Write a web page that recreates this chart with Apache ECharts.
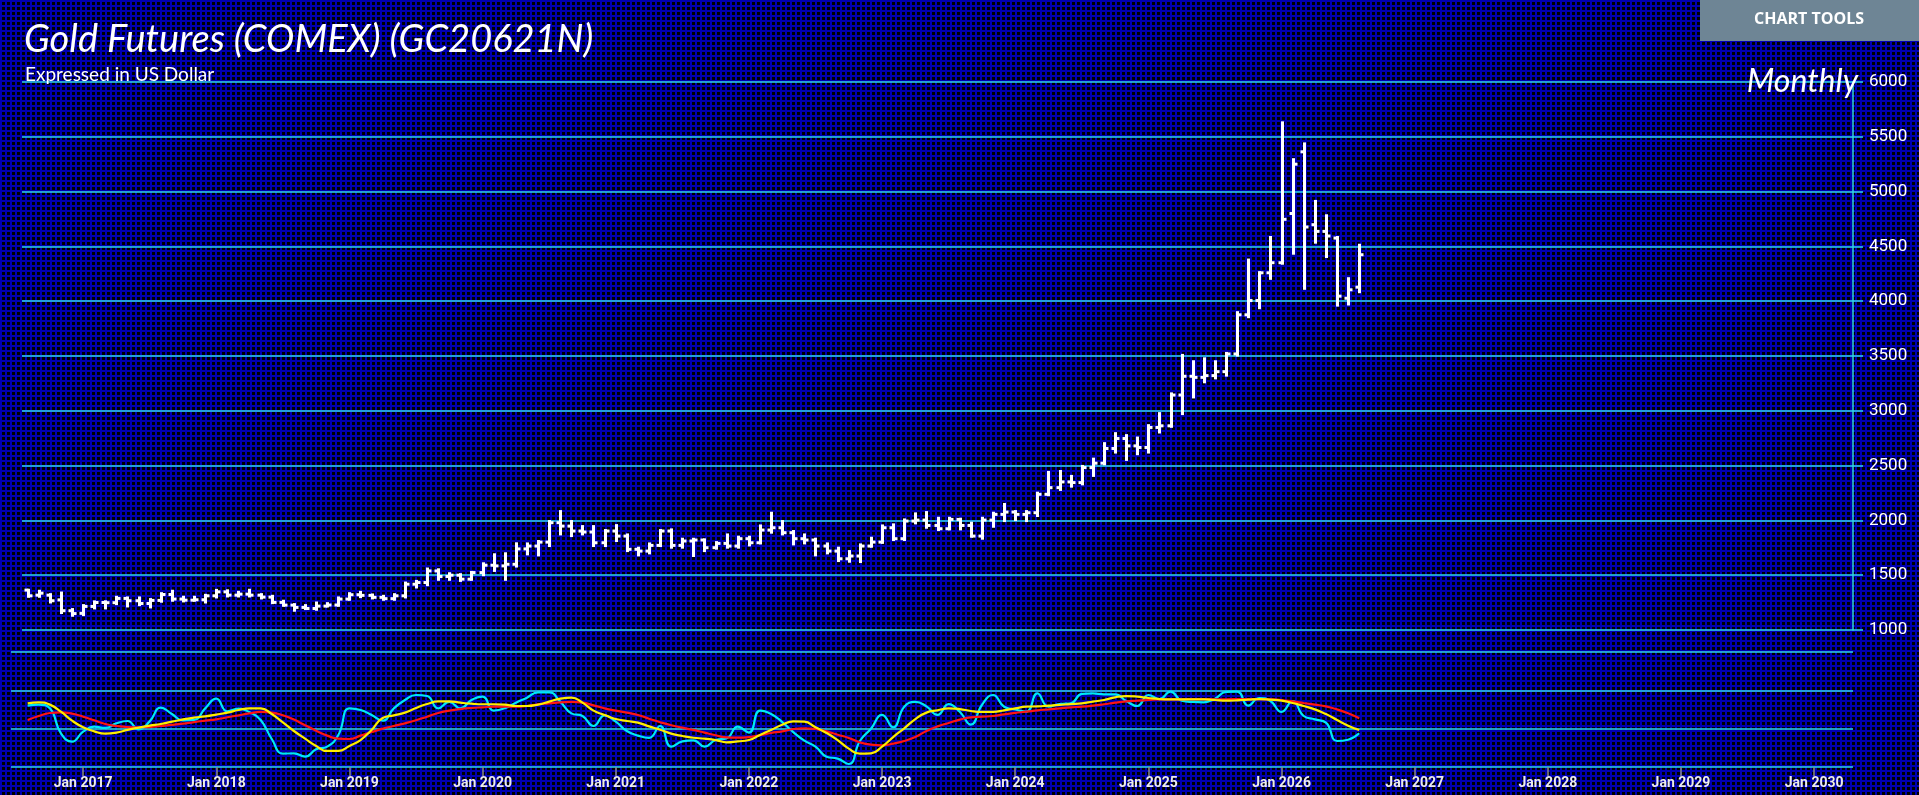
<!DOCTYPE html>
<html>
<head>
<meta charset="utf-8">
<script src="https://cdn.jsdelivr.net/npm/echarts@6/dist/echarts.min.js"></script>
<style>
html,body{margin:0;padding:0;width:1919px;height:795px;overflow:hidden;
background-color:#000;
background-image:linear-gradient(to right,#0000b0 2px,transparent 2px),linear-gradient(to bottom,#0000b0 2px,transparent 2px);
background-size:5px 5px;}
#chart{width:1919px;height:795px;}
</style>
</head>
<body>
<div id="chart"></div>
<script>
// ---- categories (monthly, Jul 2016 .. Apr 2030) ----
const MONTH_NAMES = ['Jan','Feb','Mar','Apr','May','Jun','Jul','Aug','Sep','Oct','Nov','Dec'];
const monthsLower = [];
for (let i = 0; i < 166; i++) { const t = 6 + i; monthsLower.push(MONTH_NAMES[t % 12] + ' ' + (2016 + Math.floor(t / 12))); }
const monthsMain = monthsLower.slice(1); // Aug 2016 .. Apr 2030

// ---- OHLC, Aug 2016 .. Aug 2026 ----
const opens = [1364,1318,1318,1275,1176, 1152,1215,1251,1249,1288,1267,1242,1270,1324,1282,1272,1276,
 1312,1348,1318,1327,1318,1300,1252,1227,1206,1196,1218,1228,
 1282,1322,1316,1298,1286,1312,1418,1433,1539,1488,1500,1464,
 1524,1591,1585,1600,1740,1766,1802,1979,1948,1903,1894,1796,
 1903,1857,1736,1720,1772,1903,1772,1812,1821,1751,1790,1766,
 1833,1796,1912,1933,1888,1833,1821,1766,1720,1650,1675,1766,
 1802,1933,1833,1994,2003,1954,1924,2009,1954,1857,2003,2055,
 2076,2055,2070,2238,2299,2351,2345,2482,2522,2656,2747,2680,
 2665,2848,2863,3144,3315,3305,3321,3357,3519,3876,4006,4259,
 4351,4800,5363,4698,4637,4576,4027,4128];
const highs = [1367,1358,1327,1342,1191, 1227,1261,1262,1303,1297,1297,1282,1336,1358,1303,1303,1321,
 1366,1362,1348,1367,1327,1312,1267,1236,1227,1251,1245,1297,
 1336,1348,1324,1312,1327,1433,1448,1561,1554,1518,1509,1530,
 1609,1691,1700,1791,1790,1812,1994,2085,1994,1948,1948,1912,
 1957,1872,1751,1790,1912,1918,1833,1833,1827,1802,1872,1851,
 1851,1954,2070,1994,1903,1872,1833,1790,1751,1720,1781,1842,
 1954,1964,2009,2064,2076,2024,2024,2015,1979,2024,2070,2150,
 2085,2085,2253,2442,2451,2406,2497,2564,2705,2796,2778,2756,
 2869,2979,3159,3510,3452,3479,3452,3528,3900,4380,4265,4586,
 5632,5296,5440,4915,4784,4586,4210,4515];
const lows = [1303,1303,1251,1155,1130, 1136,1197,1197,1236,1215,1227,1206,1258,1267,1261,1267,1251,
 1297,1306,1306,1306,1288,1245,1221,1176,1191,1185,1215,1221,
 1276,1300,1288,1276,1276,1297,1388,1409,1458,1458,1448,1458,
 1500,1539,1458,1579,1690,1681,1766,1872,1857,1872,1766,1766,
 1812,1720,1681,1699,1766,1751,1751,1675,1720,1742,1751,1751,
 1772,1790,1888,1872,1781,1790,1681,1699,1629,1623,1620,1760,
 1795,1821,1821,1973,1933,1912,1918,1918,1851,1833,1942,1994,
 2003,1994,2040,2230,2278,2308,2329,2406,2512,2619,2552,2604,
 2619,2802,2854,2970,3122,3260,3296,3321,3504,3854,3936,4204,
 4342,4433,4113,4534,4403,3960,3970,4082];
const closes = [1312,1336,1267,1176,1150, 1215,1251,1249,1288,1267,1242,1270,1324,1282,1272,1276,1312,
 1348,1318,1327,1318,1300,1252,1227,1206,1196,1218,1228,1282,
 1322,1316,1298,1286,1312,1418,1433,1539,1488,1500,1464,1524,
 1591,1585,1600,1740,1766,1802,1979,1948,1903,1894,1796,1903,
 1857,1736,1720,1772,1903,1772,1812,1821,1751,1790,1766,1833,
 1796,1912,1933,1888,1833,1821,1766,1720,1650,1675,1766,1802,
 1933,1833,1994,2003,1954,1924,2009,1954,1857,2003,2055,2076,
 2055,2070,2238,2299,2351,2345,2482,2522,2656,2747,2680,2665,
 2848,2863,3144,3315,3305,3321,3357,3519,3876,4006,4259,4351,
 4747,5250,4677,4637,4595,4046,4104,4424];

// ---- lower-panel oscillators, Aug 2016 .. Aug 2026 ----
const fastLine = [52.8,53.7,50.5,29,21.8,30.4,34.7,33.6,37.6,39.6,32.4,39.3,51.1,45.6,40.2,40.5,50.5,58.8,47.9,50.2,47.1,40.5,24.1,11.5,11.8,8.9,15.2,17.5,27.6,50.5,49.1,44.8,39.9,50.5,57.7,62,61.1,50.5,56,50.5,57.7,60.6,48.5,50.5,55.4,
 59.7,64.3,64.3,56.3,46.2,43.9,35.3,44.5,39,31,27,25,35.3,17.5,22.1,23,17.5,23.2,24.7,34.7,29.6,48.5,45.6,38.7,30.1,22.7,17.5,8.9,7.2,2.6,22.4,33,44.8,34.2,51.9,56,52.2,44.8,54.2,47.6,36.4,53.4,62,51.9,49.5,
 47.6,63.4,51.9,54.2,54.8,62.9,63.4,62.6,62.6,56.8,52.5,62,58.5,64.9,57.1,56,55.7,58.8,64.6,64.9,52.8,59.4,56.8,47.4,56.8,43.9,41,38.2,22.4,23.5,29];
const midLine = [54.8,55.7,53.7,47.6,39.9,34.2,30.7,28.7,29.6,31.9,33.9,35.6,37,39,41,42.5,43.6,45.1,46.8,49.1,50.5,50.5,45.6,38.5,31,24.4,18.1,13.8,13.8,18.1,23.2,31.9,42.2,44.5,46.8,50.8,54.2,56.5,56.5,55.4,54.5,54,54,53.7,52.5,
 52.5,53.7,56.3,58.8,59.7,55.4,48.5,44.8,41.3,39.6,38.2,35,32.1,28.7,26.7,25.2,24.4,23.2,21.2,22.1,23.2,27.6,31.9,36.4,39.3,39,34.2,29.3,23.2,15.8,11.5,11.8,17.5,25.8,33.3,41.3,46.8,48.8,50.5,49.9,48.2,47.4,47.4,48.8,50.5,
 51.9,52.2,52.8,53.4,54.2,54.8,56.3,57.7,60,61.1,60.6,59.4,58.5,58.3,58.3,58.3,58.3,57.7,57.1,57.4,58,58.5,58,57.1,55.1,52.5,49.6,45.6,40.5,35.6,31.9];
const slowLine = [40.5,43.9,46.5,47.1,45.9,43.3,40.2,37,35.3,34.4,34.2,34.4,35.3,36.2,37.3,38.7,39.9,41,42.8,44.5,46.2,47.4,46.8,44.5,40.8,35.9,31.3,27,24.4,24.1,27,30.1,33,35.3,37.6,40.2,43.3,46.5,48.5,49.9,50.8,51.4,51.9,51.9,51.9,
 52.5,54,54.8,55.7,56,55.4,53.1,50.5,48.5,46.8,44.8,41.6,38.5,35.9,33.9,31.9,29.6,27.3,25.5,25.3,25.8,27.3,29.3,30.7,32.7,33.3,32.7,30.7,27.8,25,21.2,19.2,18.7,20.1,22.4,25.8,31,35,37.9,40.8,42.8,43.3,43.9,45.3,46.6,
 47.6,48.8,49.6,50.5,51.4,51.9,52.8,54,55.4,56.5,57.1,57.7,58.3,58.3,58.3,58.5,58.5,58.3,58.3,58.5,58.5,58.5,58.3,57.7,56.5,55.1,53.7,52.2,49.6,46.2,41.9];

// ---- tick labels ----
const priceTicks = {min: 1000, max: 6000, step: 500};

const ohlcData = opens.map((o, i) => [i, o, highs[i], lows[i], closes[i]]);
const lowerPad = v => [null].concat(v);
const isJan = (idx, val) => String(val).indexOf('Jan') === 0;

const CYAN_GRID = '#2fd6ea';
const chart = echarts.init(document.getElementById('chart'), null, {renderer: 'canvas'});
chart.setOption({
  animation: false,
  backgroundColor: 'transparent',
  title: [
    {text: 'Gold Futures (COMEX) (GC20621N)', left: 19, top: 16,
     textStyle: {color: '#ffffff', fontSize: 38, fontStyle: 'italic', fontWeight: 'normal', fontFamily: 'Lato, "Open Sans", sans-serif'}},
    {text: 'Expressed in US Dollar', left: 20, top: 60,
     textStyle: {color: '#ffffff', fontSize: 19, fontWeight: 'normal', fontFamily: 'Lato, "Open Sans", sans-serif'}},
    {text: 'Monthly', right: 56, top: 61,
     textStyle: {color: '#ffffff', fontSize: 32, fontStyle: 'italic', fontWeight: 'normal', fontFamily: 'Lato, "Open Sans", sans-serif'}}
  ],
  graphic: [
    {type: 'rect', left: 1700, top: 0, shape: {width: 219, height: 41}, style: {fill: '#6e8595'}},
    {type: 'text', x: 1809, y: 19, style: {text: 'CHART TOOLS', fill: '#ffffff', align: 'center', verticalAlign: 'middle', font: 'bold 16px "Open Sans", Lato, sans-serif'}}
  ],
  grid: [
    {left: 22, right: 66, top: 82, height: 548},
    {left: 11, right: 66, top: 652, height: 115}
  ],
  xAxis: [
    {type: 'category', gridIndex: 0, data: monthsMain, boundaryGap: true, show: false},
    {type: 'category', gridIndex: 1, data: monthsLower, boundaryGap: true,
     axisLine: {show: false},
     axisTick: {show: true, alignWithLabel: true, interval: isJan, length: 9, lineStyle: {color: '#8a8a8a', width: 1.5}},
     axisLabel: {interval: isJan, color: '#ececec', fontSize: 14, margin: 9, fontFamily: '"Liberation Sans Narrow", Roboto, sans-serif', fontWeight: 'bold'},
     splitLine: {show: false}}
  ],
  yAxis: [
    {type: 'value', gridIndex: 0, position: 'right', min: priceTicks.min, max: priceTicks.max, interval: priceTicks.step,
     axisLine: {show: true, lineStyle: {color: CYAN_GRID, width: 1.5}},
     axisTick: {show: true, length: 10, lineStyle: {color: CYAN_GRID, width: 1.5}},
     axisLabel: {color: '#ffffff', fontSize: 17, margin: 16, fontFamily: 'Roboto, sans-serif', formatter: v => String(v)},
     splitLine: {show: true, lineStyle: {color: CYAN_GRID, width: 1.5}}},
    {type: 'value', gridIndex: 1, min: 0, max: 99, interval: 33,
     axisLine: {show: false}, axisTick: {show: false}, axisLabel: {show: false},
     splitLine: {show: true, lineStyle: {color: CYAN_GRID, width: 1.5}}}
  ],
  series: [
    {type: 'custom', name: 'GC', xAxisIndex: 0, yAxisIndex: 0, data: ohlcData,
     encode: {x: 0, y: [1, 2, 3, 4]},
     renderItem: function (params, api) {
       const xi = api.value(0);
       const o = api.coord([xi, api.value(1)]);
       const h = api.coord([xi, api.value(2)]);
       const l = api.coord([xi, api.value(3)]);
       const c = api.coord([xi, api.value(4)]);
       const x = Math.round(h[0]) + 0.5;
       const st = {stroke: '#ffffff', lineWidth: 3};
       return {type: 'group', children: [
         {type: 'line', shape: {x1: x, y1: h[1] - 1, x2: x, y2: l[1] + 1}, style: st},
         {type: 'line', shape: {x1: x - 4, y1: o[1], x2: x, y2: o[1]}, style: st},
         {type: 'line', shape: {x1: x, y1: c[1], x2: x + 4, y2: c[1]}, style: st}
       ]};
     }},
    {type: 'line', name: 'fast', xAxisIndex: 1, yAxisIndex: 1, data: lowerPad(fastLine), smooth: true, showSymbol: false,
     lineStyle: {color: '#00e8f8', width: 2.2}},
    {type: 'line', name: 'slow', xAxisIndex: 1, yAxisIndex: 1, data: lowerPad(slowLine), smooth: true, showSymbol: false,
     lineStyle: {color: '#ff1414', width: 2.2}},
    {type: 'line', name: 'mid', xAxisIndex: 1, yAxisIndex: 1, data: lowerPad(midLine), smooth: true, showSymbol: false,
     lineStyle: {color: '#ffee00', width: 2.2}}
  ]
});
</script>
</body>
</html>
